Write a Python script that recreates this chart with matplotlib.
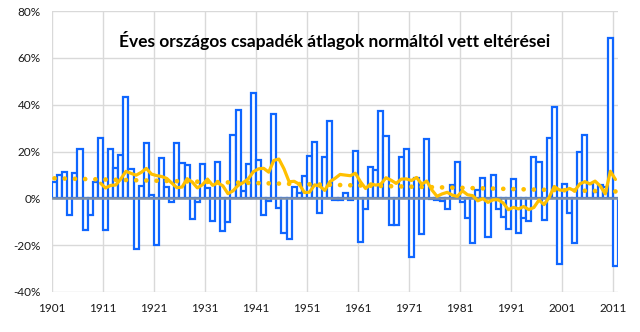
import numpy as np
import matplotlib
matplotlib.use("Agg")
import matplotlib.pyplot as plt
from matplotlib.transforms import ScaledTranslation

plt.rcParams['font.family'] = ['Lato', 'DejaVu Sans']

title = "Éves országos csapadék átlagok normáltól vett eltérései"
first_year = 1901
# annual precipitation deviation from normal (%), 1901..2011
deviation = [
    7.1, 10.0, 11.1, -7.3, 10.7, 21.1, -13.5, -7.0, 6.8, 25.7,        # 1901-1910
    -13.6, 21.1, 12.9, 18.5, 43.3, 12.5, -21.5, 5.2, 23.6, 1.4,       # 1911-1920
    -20.0, 17.2, 4.8, -1.4, 23.6, 15.1, 14.2, -8.7, -1.7, 14.6,       # 1921-1930
    4.4, -9.5, 15.3, -13.8, -10.0, 27.0, 37.6, 3.2, 14.6, 45.0,       # 1931-1940
    16.4, -7.1, -1.2, 36.2, -4.0, -14.9, -17.5, 5.0, 2.1, 9.6,        # 1941-1950
    18.1, 24.0, -6.4, 17.8, 33.1, -0.6, -0.7, 2.2, -0.6, 20.2,        # 1951-1960
    -18.5, -4.6, 13.5, 12.3, 37.4, 26.6, -11.3, -11.3, 17.7, 21.0,    # 1961-1970
    -25.2, 8.5, -15.2, 25.5, -0.5, -0.8, -1.0, -4.5, 5.8, 15.6,       # 1971-1980
    -1.6, -8.3, -18.9, 3.5, 8.5, -16.4, 10.0, -4.5, -8.0, -13.0,      # 1981-1990
    8.4, -15.0, -8.6, -9.8, 17.5, 15.5, -9.4, 25.9, 39.2, -28.0,      # 1991-2000
    6.2, -6.4, -18.9, 19.9, 27.1, 6.0, 2.5, 5.5, 5.0, 68.6,           # 2001-2010
    -28.8,                                                            # 2011
]
ma_period = 10
y_ticks = [-40, -20, 0, 20, 40, 60, 80]

vals = np.array(deviation)
n = len(vals)
years = np.arange(first_year, first_year + n)
idx = np.arange(n)

blue = '#0F66FF'
gold = '#FFC000'

fig = plt.figure(figsize=(6.4, 3.32), dpi=100)
ax = fig.add_axes([52 / 640, (332 - 291.9) / 332, 566 / 640, 280.8 / 332])

ax.bar(idx, vals, width=1.0, align='edge', facecolor='white',
       edgecolor=blue, linewidth=1.6, zorder=2)

ax.axhline(0, color='#8090A4', lw=1.8, zorder=3)

# moving average (Excel trendline, period 10)
ma = np.convolve(vals, np.ones(ma_period) / ma_period, mode='valid')
ax.plot(idx[ma_period - 1:] + 0.5, ma, color=gold, lw=2.3, zorder=5,
        solid_joinstyle='round', solid_capstyle='round')

# linear trendline
coef = np.polyfit(idx, vals, 1)
ax.plot(idx + 0.5, np.polyval(coef, idx), color=gold, lw=3.4,
        linestyle=(0, (0.01, 2.15)), dash_capstyle='round', zorder=4)

ax.set_xlim(0, n)
ax.set_ylim(-40, 80)
ax.set_yticks(y_ticks)
ax.set_yticklabels([f"{v}%" for v in y_ticks])
xt = idx[::10]
ax.set_xticks(xt)
ax.set_xticklabels([str(y) for y in years[::10]])
offset = ScaledTranslation(1.5 / 100, 0, fig.dpi_scale_trans)
for lab in ax.get_xticklabels():
    lab.set_transform(lab.get_transform() + offset)

ax.grid(True, color='#D9D9D9', lw=1.0, zorder=0)
ax.set_axisbelow(True)
for s in ax.spines.values():
    s.set_visible(False)
ax.tick_params(axis='both', length=0, labelsize=8.5, colors='#1a1a1a')
ax.tick_params(axis='y', pad=8)
ax.tick_params(axis='x', pad=8)

fig.text(0.523, 0.878, title, ha='center', va='center', fontsize=12.5,
         fontweight='bold', color='black')

fig.savefig('out.png', dpi=100)
